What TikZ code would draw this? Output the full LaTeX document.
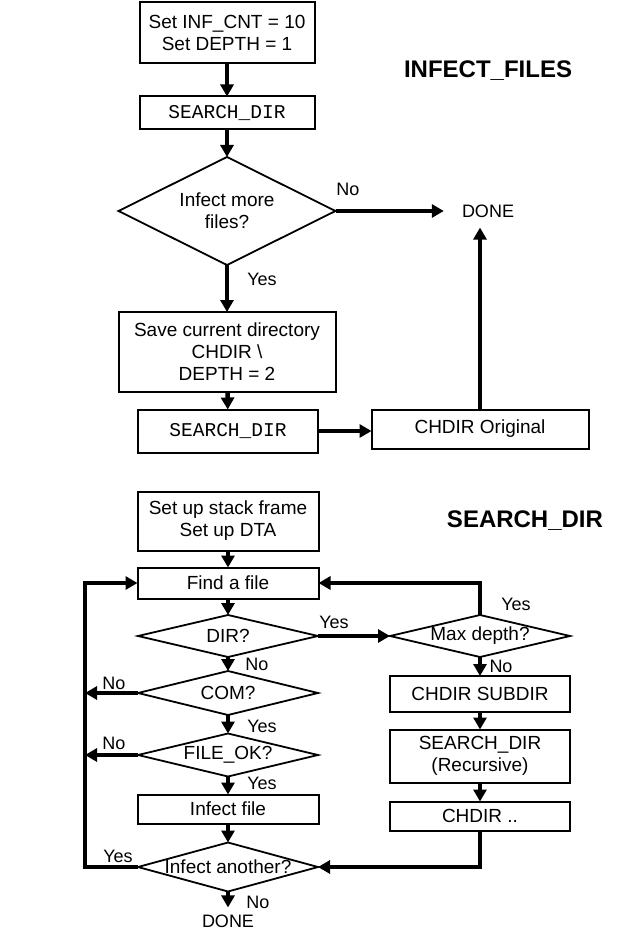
\documentclass[tikz,border=0pt]{standalone}
\usepackage{fontspec}
\setmainfont{Liberation Sans}
\setmonofont{Liberation Mono}
\usetikzlibrary{shapes.geometric,arrows.meta}

\newcommand{\boxfont}{\fontsize{19}{22}\selectfont}
\newcommand{\lblfont}{\fontsize{18}{20}\selectfont}
\newcommand{\ttlfont}{\fontsize{24}{28}\selectfont\bfseries}
\newcommand{\codefont}{\fontsize{19.5}{22}\selectfont\ttfamily}

\tikzset{
  box/.style 2 args={draw,line width=2pt,minimum width=#1,minimum height=#2,
    inner sep=0pt,outer sep=0pt,align=center,font=\boxfont},
  dia/.style 2 args={diamond,draw,line width=1.8pt,minimum width=#1,minimum height=#2,
    inner sep=0pt,outer sep=0pt},
  flow/.style={line width=4.5pt,-{Triangle[length=12pt,width=13pt]}},
  lbl/.style={inner sep=0pt,font=\lblfont},
  ttl/.style={inner sep=0pt,font=\ttlfont},
  every label/.style={font=\boxfont,align=center,inner sep=0pt},
}

\begin{document}
\begin{tikzpicture}[x=1pt,y=-1pt]
    \useasboundingbox (0,0) rectangle (623,931);
    % INFECT_FILES
    \node[ttl] (title1) at (488,71) {INFECT\_FILES};
    \node[box={175}{61}] (init) at (227,33) {Set INF\_CNT = 10\\Set DEPTH = 1};
    \node[box={175}{33},font=\codefont] (srch1) at (227,113) {SEARCH\_DIR};
    \node[dia={217}{108},label={center:Infect more\\files?}] (more) at (227,211) {};
    \node[lbl,inner xsep=18pt,inner ysep=10pt] (done1) at (488,211) {DONE};
    \node[box={217}{80}] (save) at (227,352) {Save current directory\\CHDIR \textbackslash\\DEPTH = 2};
    \node[box={180}{43},font=\codefont] (srch2) at (228,431) {SEARCH\_DIR};
    \node[box={217}{39}] (orig) at (480,429) {CHDIR Original};
    % Arrows
    \draw[flow] (init) -- (srch1);
    \draw[flow] (srch1) -- (more);
    \draw[flow] (more.east) -- (done1);
    \draw[flow] (more) -- (save);
    \draw[flow] (save) -- (srch2);
    \draw[flow] (srch2) -- (srch2 -| orig.west);
    \draw[flow] (orig.north) -- (orig.north |- done1.south);
    % Labels
    \node[lbl] (no1) at (348,189) {No};
    \node[lbl] (yes1) at (262,279) {Yes};

    % SEARCH_DIR
    \node[ttl] (title2) at (525,521) {SEARCH\_DIR};
    \node[box={181}{59}] (stack) at (228,521) {Set up stack frame\\Set up DTA};
    \node[box={181}{31}] (find) at (228,583) {Find a file};
    \node[dia={180}{42},label={center:DIR?}] (dir) at (228,636) {};
    \node[dia={180}{44},label={center:COM?}] (com) at (228,693) {};
    \node[dia={180}{43},label={center:FILE\_OK?}] (fok) at (228,755) {};
    \node[box={181}{29}] (inf) at (228,809) {Infect file};
    \node[dia={180}{49},label={center:Infect another?}] (another) at (228,867) {};
    \node[lbl,inner ysep=7pt] (done2) at (228,921) {DONE};
    \node[dia={180}{42},label={center:Max depth?}] (maxd) at (480,636) {};
    \node[box={180}{36}] (sub) at (480,694) {CHDIR SUBDIR};
    \node[box={180}{53}] (rec) at (480,756) {SEARCH\_DIR\\(Recursive)};
    \node[box={180}{29}] (up) at (480,816) {CHDIR ..};
    \coordinate (loopt) at (85,583);
    \coordinate (loopb) at (85,867);
    % Arrows
    \draw[flow] (stack) -- (find);
    \draw[flow] (find) -- (dir);
    \draw[flow] (dir) -- (com);
    \draw[flow] (com) -- (fok);
    \draw[flow] (fok) -- (inf);
    \draw[flow] (inf) -- (another);
    \draw[flow] (another) -- (done2);
    \draw[flow] (dir) -- (maxd);
    \draw[flow] (maxd) -- (sub);
    \draw[flow] (sub) -- (rec);
    \draw[flow] (rec) -- (up);
    \draw[flow] (maxd.north) |- (find.east);
    \draw[flow] (up.south) |- (another.east);
    \draw[flow] (com.west) -- (com.west -| loopt);
    \draw[flow] (fok.west) -- (fok.west -| loopt);
    \draw[flow] (another.west) -- (loopb) -- (loopt) -- (find.west);
    % Labels
    \node[lbl] (no2) at (257,664) {No};
    \node[lbl] (yes2) at (334,622) {Yes};
    \node[lbl] (yes3) at (516,604) {Yes};
    \node[lbl] (no3) at (501,666) {No};
    \node[lbl] (no4) at (114,683) {No};
    \node[lbl] (yes4) at (262,726) {Yes};
    \node[lbl] (no5) at (114,743) {No};
    \node[lbl] (yes5) at (262,783) {Yes};
    \node[lbl] (yes6) at (118,856) {Yes};
    \node[lbl] (no6) at (258,902) {No};
\end{tikzpicture}
\end{document}
